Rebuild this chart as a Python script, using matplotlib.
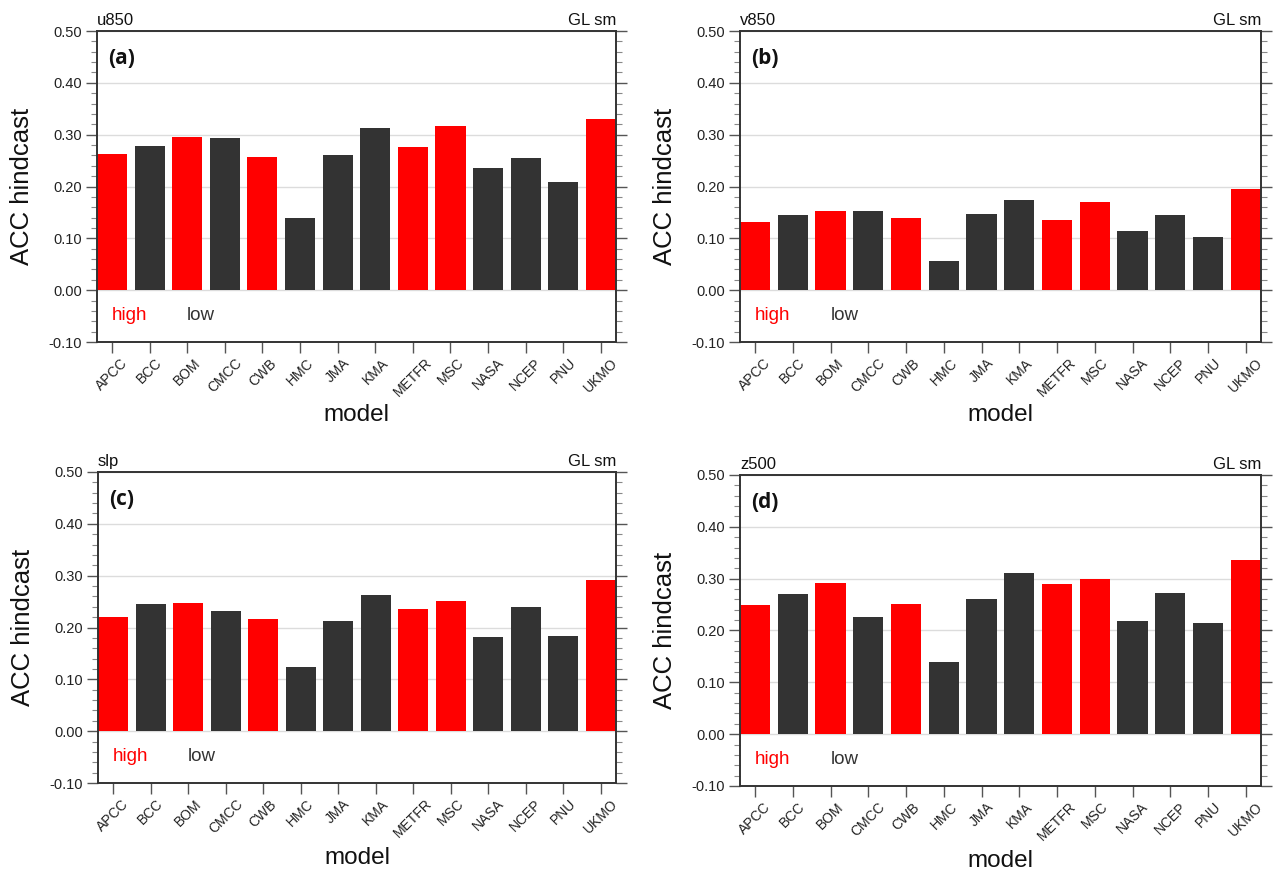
import matplotlib
matplotlib.use("Agg")
import matplotlib.pyplot as plt
from matplotlib.ticker import MultipleLocator, FormatStrFormatter

models = ["APCC", "BCC", "BOM", "CMCC", "CWB", "HMC", "JMA", "KMA",
          "METFR", "MSC", "NASA", "NCEP", "PNU", "UKMO"]
group = ["high", "low", "high", "low", "high", "low", "low", "low",
         "high", "high", "low", "low", "low", "high"]

u850 = [0.262, 0.279, 0.296, 0.293, 0.257, 0.139, 0.260, 0.312,
        0.277, 0.316, 0.236, 0.255, 0.209, 0.330]
v850 = [0.132, 0.145, 0.152, 0.152, 0.139, 0.057, 0.147, 0.174,
        0.136, 0.170, 0.115, 0.145, 0.103, 0.195]
slp = [0.220, 0.245, 0.248, 0.232, 0.216, 0.123, 0.212, 0.263,
       0.236, 0.252, 0.182, 0.239, 0.184, 0.291]
z500 = [0.249, 0.271, 0.291, 0.226, 0.251, 0.140, 0.260, 0.311,
        0.289, 0.299, 0.218, 0.273, 0.215, 0.335]

variables = ["u850", "v850", "slp", "z500"]
panel_labels = ["(a)", "(b)", "(c)", "(d)"]
series = [u850, v850, slp, z500]

RED = "#ff0000"
DARK = "#333333"
colors = {"high": RED, "low": DARK}

plt.rcParams['font.family'] = ['Liberation Sans', 'DejaVu Sans']

fig = plt.figure(figsize=(12.74, 8.71), dpi=100)
rects = [
    [0.0761, 0.6073, 0.4074, 0.3571],
    [0.5808, 0.6073, 0.4089, 0.3571],
    [0.0769, 0.1010, 0.4066, 0.3571],
    [0.5808, 0.0976, 0.4089, 0.3571],
]
xlab_y = [-0.235, -0.235, -0.240, -0.240]

x = list(range(1, len(models) + 1))
for rect, var, lab, vals, xly in zip(rects, variables, panel_labels, series, xlab_y):
    ax = fig.add_axes(rect)
    ax.bar(x, vals, width=0.8, color=[colors[g] for g in group], zorder=2)
    ax.set_xlim(0.6, 14.4)
    ax.set_ylim(-0.10, 0.50)
    ax.yaxis.set_major_locator(MultipleLocator(0.1))
    ax.yaxis.set_minor_locator(MultipleLocator(0.02))
    ax.yaxis.set_major_formatter(FormatStrFormatter('%.2f'))
    ax.grid(axis='y', which='major', color='#dcdcdc', linewidth=1.0, zorder=0)
    ax.set_axisbelow(True)
    ax.set_xticks(x)
    ax.set_xticklabels(models, rotation=45, ha='center', va='top',
                       fontsize=10, color='#222222')
    ax.tick_params(axis='y', which='major', direction='out', length=8, width=1,
                   color='#555555', labelsize=10.5, labelcolor='#222222',
                   left=True, right=True, pad=3)
    ax.tick_params(axis='y', which='minor', direction='out', length=4, width=0.8,
                   color='#888888', left=True, right=True)
    ax.tick_params(axis='x', which='major', direction='out', length=8, width=1,
                   color='#555555', pad=2)
    for s in ax.spines.values():
        s.set_linewidth(1.4)
        s.set_color('#333333')
    ax.set_ylabel("ACC hindcast", fontsize=18.5, color='#111111', va='center')
    ax.yaxis.set_label_coords(-0.1445, 0.5)
    ax.set_xlabel("model", fontsize=17.5, color='#111111', va='center')
    ax.xaxis.set_label_coords(0.5, xly)
    ax.set_title(var, loc='left', fontsize=12, pad=4, color='#111111')
    ax.set_title("GL sm", loc='right', fontsize=12, pad=4, color='#111111')
    ax.text(0.022, 0.912, lab, transform=ax.transAxes, fontsize=15,
            fontweight='bold', family=['Open Sans', 'DejaVu Sans'],
            ha='left', va='center', color='#111111')
    ax.text(1.0, -0.048, "high", color=RED, fontsize=13.5, ha='left', va='center')
    ax.text(3.0, -0.048, "low", color=DARK, fontsize=13.5, ha='left', va='center')

fig.savefig("out.png", dpi=100)
